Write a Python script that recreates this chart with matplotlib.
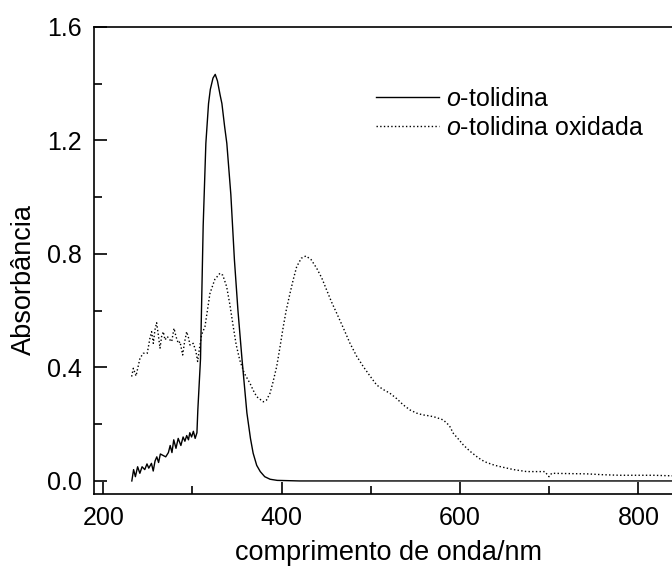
import matplotlib
matplotlib.use('Agg')
import matplotlib.pyplot as plt
from matplotlib.ticker import MultipleLocator, FormatStrFormatter

plt.rcParams['font.family'] = ['Liberation Sans', 'DejaVu Sans']
plt.rcParams['mathtext.fontset'] = 'custom'
plt.rcParams['mathtext.rm'] = 'Liberation Sans'
plt.rcParams['mathtext.it'] = 'Liberation Sans:italic'

# o-tolidina (solid)
wl_tol = [232, 234, 236, 238.5, 241, 243.5, 246.5, 249, 251, 254, 256, 258, 260, 262,
          264, 267, 270, 273, 275, 277, 279, 281.5, 284, 287, 289.5, 291.5, 293.5,
          295.5, 297, 299, 301, 303, 305, 306, 309, 312, 315, 318, 320, 323, 325.5,
          328, 331, 333, 336, 338.5, 343, 347, 351, 355.5, 361, 365, 368, 372, 376,
          381, 387, 395, 420, 500, 600, 700, 850]
abs_tol = [0.0, 0.04, 0.015, 0.05, 0.027, 0.05, 0.04, 0.06, 0.045, 0.062, 0.035, 0.07,
           0.085, 0.065, 0.095, 0.09, 0.085, 0.1, 0.125, 0.1, 0.145, 0.115, 0.15, 0.125,
           0.155, 0.14, 0.16, 0.145, 0.17, 0.155, 0.175, 0.15, 0.17, 0.25, 0.43, 0.9,
           1.19, 1.33, 1.38, 1.42, 1.433, 1.41, 1.36, 1.33, 1.25, 1.19, 1.01, 0.78, 0.6,
           0.43, 0.24, 0.15, 0.098, 0.055, 0.033, 0.015, 0.006, 0.002, 0.0, 0.0, 0.0,
           0.0, 0.0]

# o-tolidina oxidada (dotted)
wl_ox = [231.8, 233.7, 236.7, 241.1, 244.8, 249.3, 252.3, 254.2, 256.1, 257.9, 259.8,
         261.7, 263.6, 265.4, 267.3, 269.2, 271.8, 274.8, 276.7, 279.3, 281.5, 284.1,
         286.0, 289.0, 290.9, 293.5, 295.7, 297.2, 300.9, 303.9, 305.8, 307.6, 310.2,
         314, 319.6, 325, 330.8, 334, 338.3, 342, 345.7, 349, 353, 358, 364.5, 368,
         372, 379.4, 383, 386.9, 390, 394.4, 398, 401.8, 405, 409.3, 413, 416.8, 422,
         427.2, 433, 439.2, 445, 450.4, 456, 461.7, 469, 476.6, 484, 491.5, 499, 506.5,
         514, 521.4, 529, 536.3, 544, 551.3, 558, 566.3, 573, 581.2, 588, 592.4, 598,
         603.6, 611, 618.6, 624, 629.8, 639, 648.4, 660, 674.6, 695, 699.7, 702.7, 720,
         741.9, 760, 779, 800, 816.6, 838, 850]
abs_ox = [0.368, 0.397, 0.370, 0.432, 0.450, 0.450, 0.503, 0.526, 0.485, 0.532, 0.558,
          0.515, 0.468, 0.509, 0.526, 0.497, 0.509, 0.497, 0.491, 0.538, 0.509, 0.485,
          0.491, 0.444, 0.485, 0.526, 0.503, 0.479, 0.485, 0.456, 0.421, 0.462, 0.515,
          0.544, 0.661, 0.71, 0.732, 0.725, 0.685, 0.62, 0.544, 0.48, 0.426, 0.38, 0.344,
          0.32, 0.297, 0.279, 0.285, 0.309, 0.345, 0.403, 0.47, 0.544, 0.6, 0.661, 0.71,
          0.755, 0.785, 0.793, 0.78, 0.75, 0.715, 0.673, 0.63, 0.591, 0.54, 0.485, 0.44,
          0.403, 0.37, 0.338, 0.322, 0.309, 0.29, 0.268, 0.25, 0.239, 0.233, 0.229, 0.224,
          0.215, 0.195, 0.168, 0.148, 0.127, 0.105, 0.086, 0.074, 0.065, 0.055, 0.048,
          0.04, 0.033, 0.033, 0.015, 0.027, 0.026, 0.025, 0.022, 0.02, 0.02, 0.02, 0.018,
          0.018]

W, H = 672, 572
fig = plt.figure(figsize=(W / 100, H / 100), dpi=100)
# axes runs past the right edge of the figure (cropped original)
x0, x1 = 189.6, 850
left_px, bot_px, top_px = 94, 494, 27
width_px = (x1 - x0) * 0.892
ax = fig.add_axes([left_px / W, (H - bot_px) / H, width_px / W, (bot_px - top_px) / H])

ax.plot(wl_tol, abs_tol, color='black', lw=1.0, label=r'$\mathit{o}$-tolidina')
ax.plot(wl_ox, abs_ox, color='black', lw=1.0, ls=':', label=r'$\mathit{o}$-tolidina oxidada')

ax.set_xlim(x0, x1)
ax.set_ylim(-0.046, 1.6)
ax.xaxis.set_major_locator(MultipleLocator(200))
ax.xaxis.set_minor_locator(MultipleLocator(100))
ax.yaxis.set_major_locator(MultipleLocator(0.4))
ax.yaxis.set_minor_locator(MultipleLocator(0.2))
ax.yaxis.set_major_formatter(FormatStrFormatter('%.1f'))
ax.tick_params(which='both', direction='in', width=1.2, labelsize=18, pad=8.5)
ax.tick_params(which='major', length=9)
ax.tick_params(which='minor', length=5.5)
ax.spines['right'].set_visible(False)
for s in ['left', 'bottom', 'top']:
    ax.spines[s].set_linewidth(1.2)

ax.set_xlabel('comprimento de onda/nm', fontsize=19.5)
ax.set_ylabel('Absorbância', fontsize=19.5)
ax.xaxis.set_label_coords(0.5, -0.098)
ax.yaxis.set_label_coords(-0.096, 0.46)

ax.legend(loc='upper left', bbox_to_anchor=(376 / W, 1 - 87 / H),
          bbox_transform=fig.transFigure, frameon=False, fontsize=18,
          handlelength=2.5, handletextpad=0.3, labelspacing=0.2,
          borderpad=0, borderaxespad=0)

fig.savefig('out.png', dpi=100)
